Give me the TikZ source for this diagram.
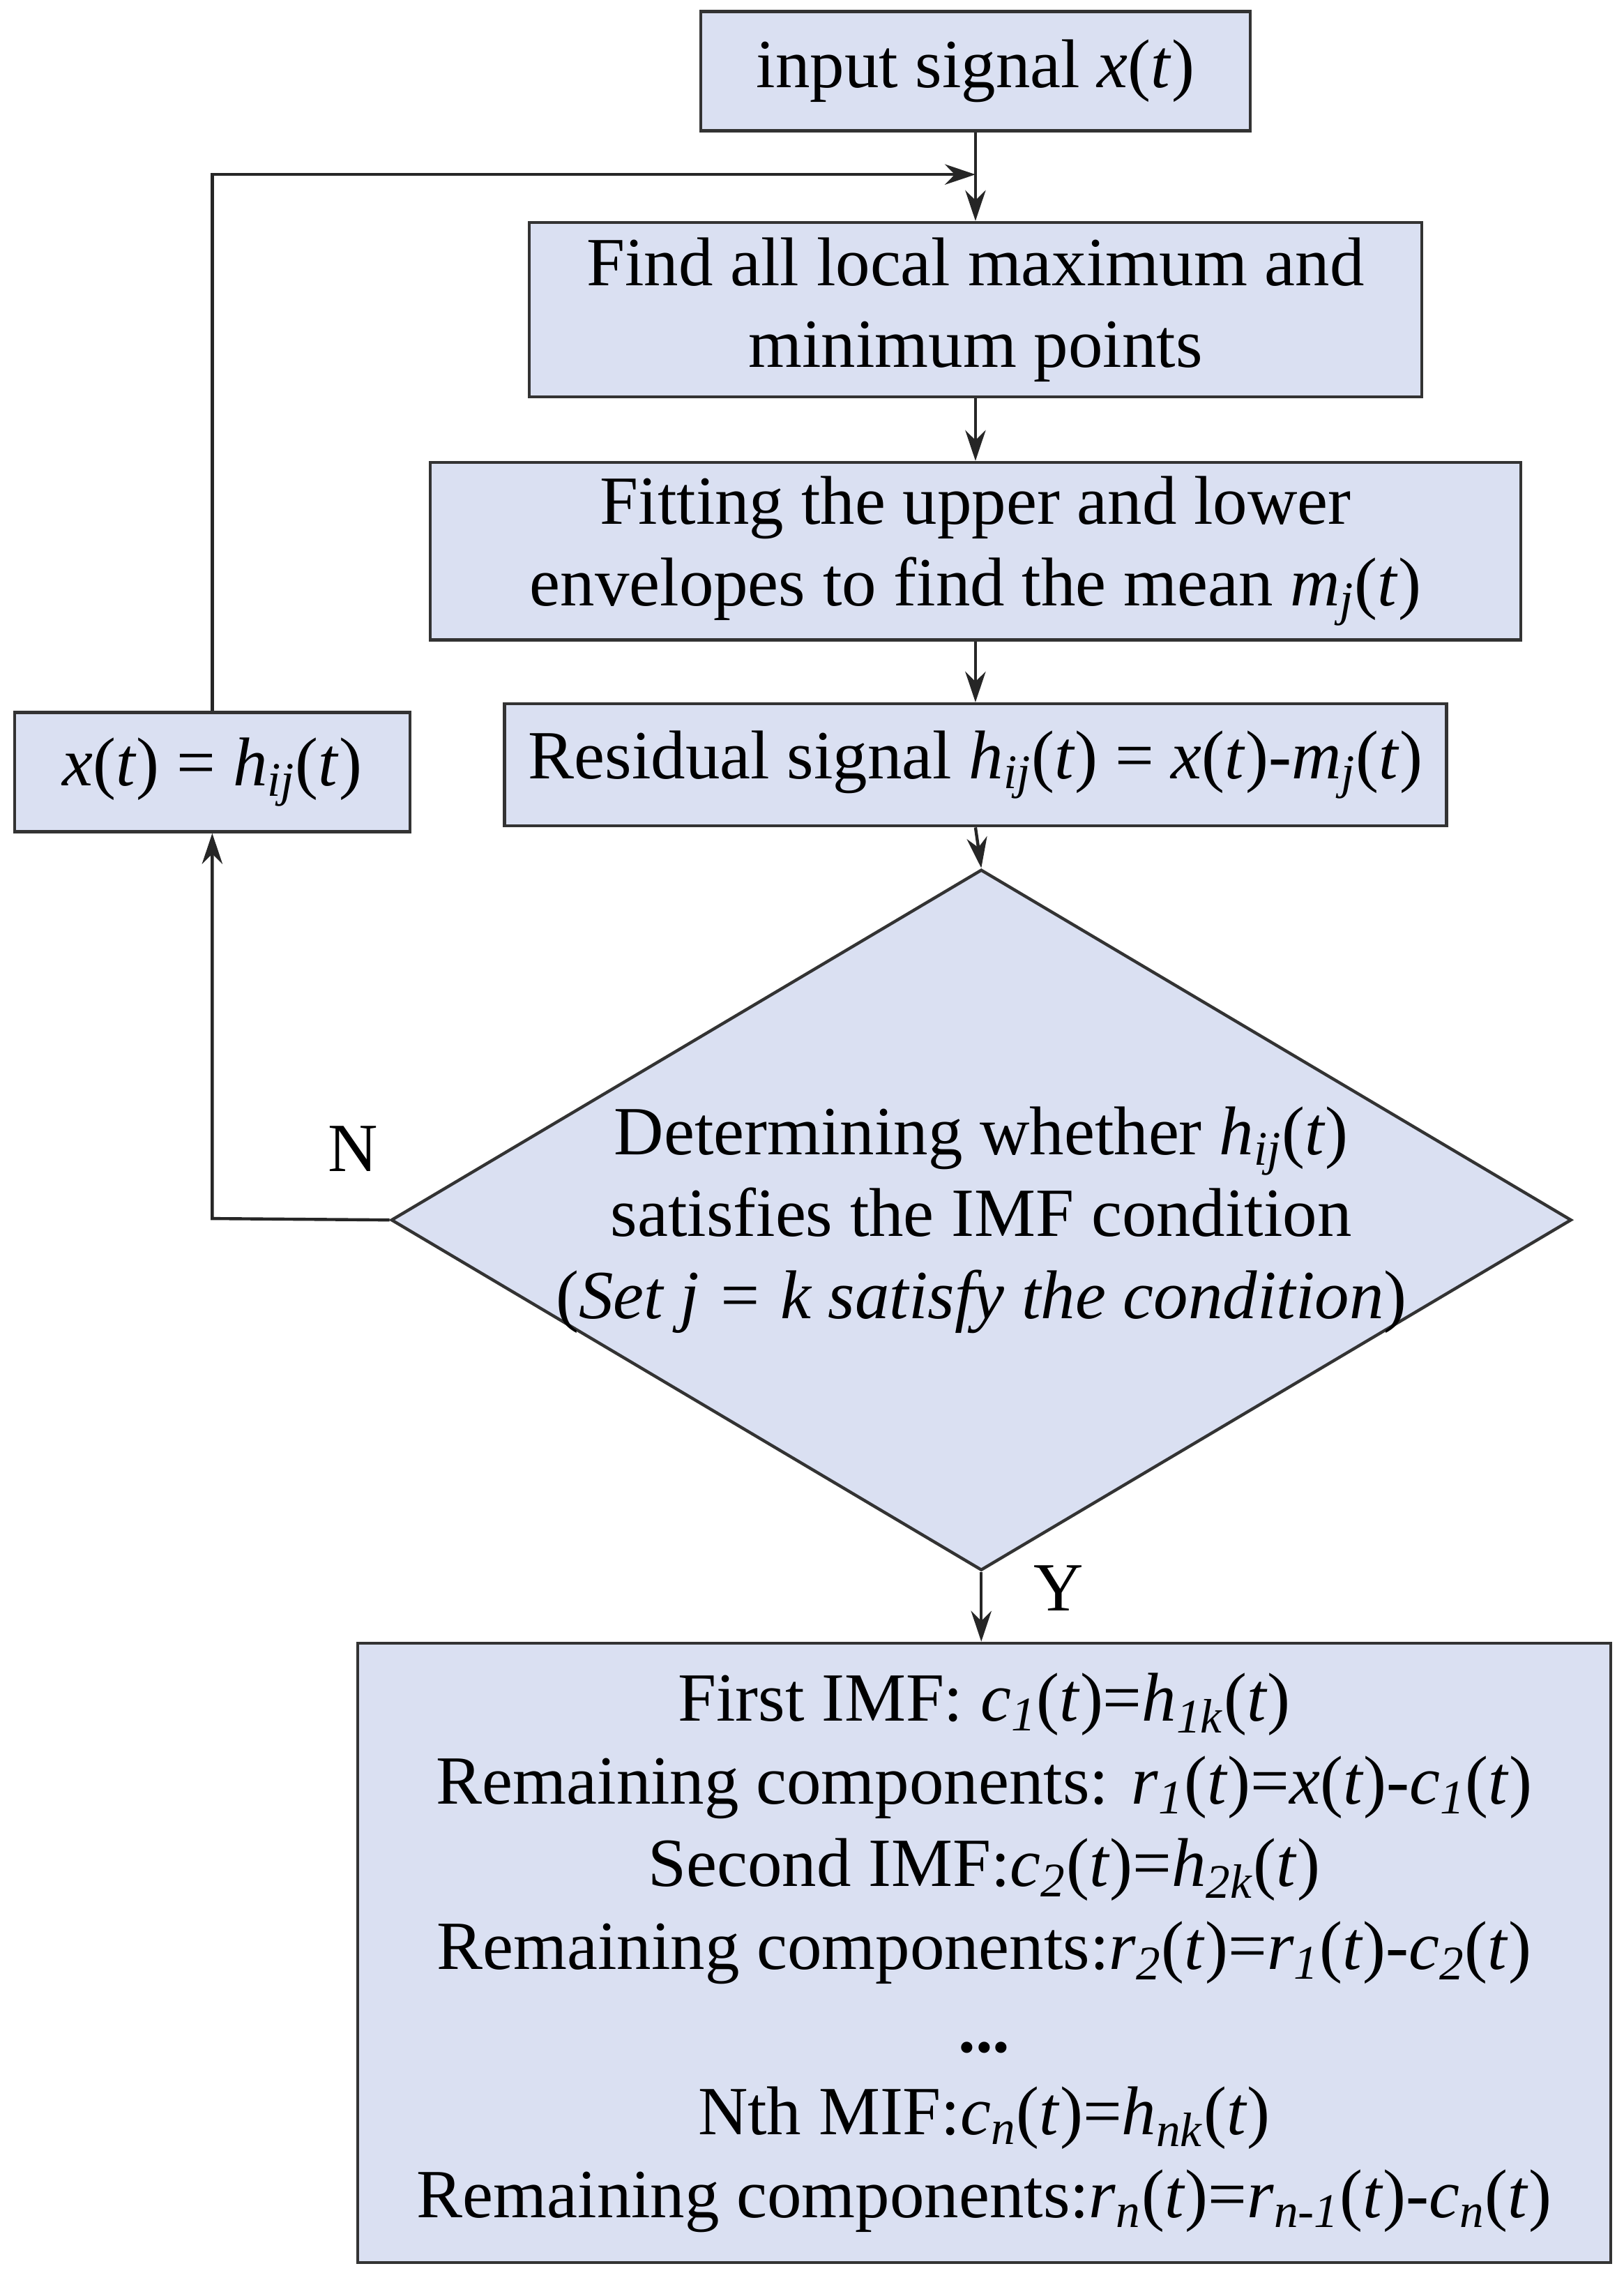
\documentclass[tikz,border=0pt]{standalone}
\usepackage{fontspec}
\setmainfont{Liberation Serif}
\usetikzlibrary{shapes.geometric,arrows.meta}
\newcommand\sbs[1]{\textsubscript{\textit{#1}}}
\newcommand\ii[1]{\textit{#1}}
\begin{document}
\begin{tikzpicture}[x=0.02cm,y=-0.02cm,
  box/.style={draw=black!80,line width=1.2pt,fill=bfill,inner sep=0pt,align=center,font=\fontsize{27}{32}\selectfont},
  arr/.style={-{Stealth[length=12pt,width=8pt]},line width=1.2pt,draw=black!85},
  lbl/.style={font=\fontsize{27}{32}\selectfont}]
\definecolor{bfill}{HTML}{DAE0F2}
\useasboundingbox (0,0) rectangle (1117,1568);
\node[box,minimum width=378*0.02cm,minimum height=82*0.02cm] (b1) at (671,49) {input signal \ii{x}(\ii{t})};
\node[box,minimum width=614*0.02cm,minimum height=120*0.02cm] (b2) at (671,213) {Find all local maximum and\\minimum points};
\node[box,minimum width=750*0.02cm,minimum height=122*0.02cm] (b3) at (671,379) {Fitting the upper and lower\\envelopes to find the mean \ii{m}\sbs{j}(\ii{t})};
\node[box,minimum width=648*0.02cm,minimum height=84*0.02cm] (b4) at (671,526) {Residual signal \ii{h}\sbs{ij}(\ii{t}) = \ii{x}(\ii{t})-\ii{m}\sbs{j}(\ii{t})};
\node[box,minimum width=272*0.02cm,minimum height=82*0.02cm] (lb) at (146,531) {\ii{x}(\ii{t}) = \ii{h}\sbs{ij}(\ii{t})};
\node[box,diamond,aspect=1.68,minimum width=812*0.02cm,minimum height=482*0.02cm] (d) at (675,839) {};
\node[lbl,align=center] at (675,839) {Determining whether \ii{h}\sbs{ij}(\ii{t})\\satisfies the IMF condition\\(\ii{Set j = k satisfy the condition})};
\node[box,minimum width=862*0.02cm,minimum height=426*0.02cm,font=\fontsize{27}{32.4}\selectfont] (big) at (677,1343) {First IMF: \ii{c}\sbs{1}(\ii{t})=\ii{h}\sbs{1k}(\ii{t})\\
Remaining components: \ii{r}\sbs{1}(\ii{t})=\ii{x}(\ii{t})-\ii{c}\sbs{1}(\ii{t})\\
Second IMF:\ii{c}\sbs{2}(\ii{t})=\ii{h}\sbs{2k}(\ii{t})\\
Remaining components:\ii{r}\sbs{2}(\ii{t})=\ii{r}\sbs{1}(\ii{t})-\ii{c}\sbs{2}(\ii{t})\\
\textbf{...}\\
Nth MIF:\ii{c}\sbs{n}(\ii{t})=\ii{h}\sbs{nk}(\ii{t})\\
Remaining components:\ii{r}\sbs{n}(\ii{t})=\ii{r}\sbs{n-1}(\ii{t})-\ii{c}\sbs{n}(\ii{t})};
\coordinate (j) at (671,120);
\coordinate (c1) at (146,120);
\coordinate (c2) at (146,838);
\draw[line width=1.2pt,draw=black!85] (b1.south) -- (j);
\draw[arr] (j) -- (b2.north);
\draw[arr] (b2.south) -- (b3.north);
\draw[arr] (b3.south) -- (b4.north);
\draw[arr] (b4.south) -- (d.north);
\draw[arr] (d.south) -- (big.north -| d.south);
\draw[arr] (d.west) -- (c2) -- (lb.south);
\draw[arr] (lb.north) -- (c1) -- (j);
\node[lbl] at (243,790) {N};
\node[lbl] at (728,1092) {Y};
\end{tikzpicture}
\end{document}
